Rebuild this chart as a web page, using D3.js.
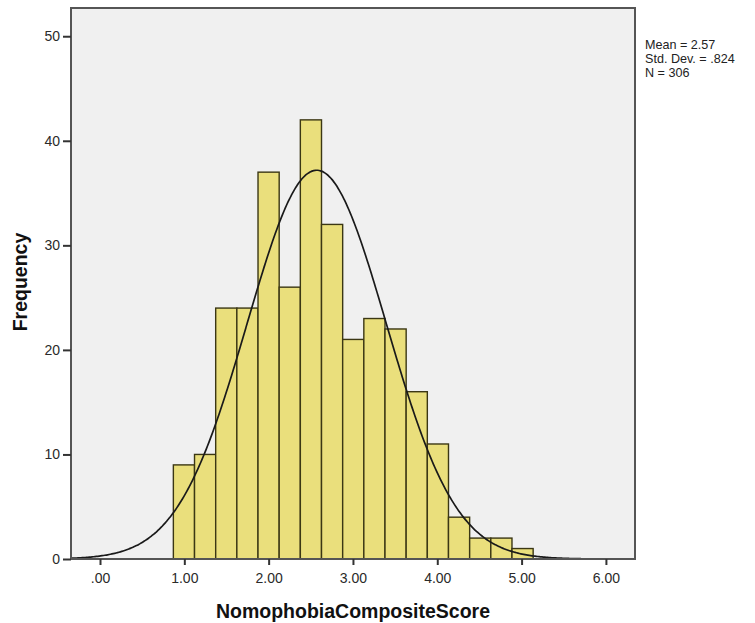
<!DOCTYPE html>
<html>
<head>
<meta charset="utf-8">
<script src="https://cdn.jsdelivr.net/npm/d3@7"></script>
<style>
  body { margin: 0; background: #fff; }
  text { font-family: "Liberation Sans", Arial, sans-serif; }
</style>
</head>
<body>
<svg id="chart" width="755" height="623"></svg>
<script>
// histogram bins (start of first bin, bin width, counts)
const binStart = 0.87;
const binWidth = 0.251;
const counts = [9, 10, 24, 24, 37, 26, 42, 32, 21, 23, 22, 16, 11, 4, 2, 2, 1];

const xTicks = [0, 1, 2, 3, 4, 5, 6];
const yTicks = [0, 10, 20, 30, 40, 50];
const statsLines = ["Mean = 2.57", "Std. Dev. = .824", "N = 306"];
const mean = 2.57, sd = 0.824, n = 306;

const svg = d3.select("#chart");
const plotLeft = 71, plotRight = 635, plotTop = 8, plotBottom = 559;

const x = d3.scaleLinear().domain([-0.344, 6.345]).range([plotLeft, plotRight]);
const y = d3.scaleLinear().domain([0, 52.7]).range([plotBottom, plotTop]);

// plot background
svg.append("rect")
  .attr("x", plotLeft).attr("y", plotTop)
  .attr("width", plotRight - plotLeft).attr("height", plotBottom - plotTop)
  .attr("fill", "#f0f0f0");

const bins = counts.map((c, i) => ({ x0: binStart + i * binWidth, x1: binStart + (i + 1) * binWidth, c }));

svg.selectAll("rect.bar")
  .data(bins).enter().append("rect")
  .attr("class", "bar")
  .attr("x", d => x(d.x0))
  .attr("y", d => y(d.c))
  .attr("width", d => x(d.x1) - x(d.x0))
  .attr("height", d => y(0) - y(d.c))
  .attr("fill", "#eadf7c")
  .attr("stroke", "#3b3714")
  .attr("stroke-width", 1.4);

// normal curve
const xs = d3.range(0, 401).map(i => x.domain()[0] + (x.domain()[1] - x.domain()[0]) * i / 400);
const normal = v => n * binWidth / (sd * Math.sqrt(2 * Math.PI)) * Math.exp(-0.5 * ((v - mean) / sd) ** 2);
svg.append("path")
  .datum(xs)
  .attr("fill", "none")
  .attr("stroke", "#1a1a1a")
  .attr("stroke-width", 1.7)
  .attr("d", d3.line().x(d => x(d)).y(d => y(normal(d))).curve(d3.curveBasis));

// frame
svg.append("rect")
  .attr("x", plotLeft).attr("y", plotTop)
  .attr("width", plotRight - plotLeft).attr("height", plotBottom - plotTop)
  .attr("fill", "none")
  .attr("stroke", "#555")
  .attr("stroke-width", 2);

// axes
const xAxis = d3.axisBottom(x).tickValues(xTicks).tickSize(6).tickPadding(8)
  .tickFormat(d => d === 0 ? ".00" : d3.format(".2f")(d));
const gx = svg.append("g").attr("transform", `translate(0,${plotBottom})`).call(xAxis);
gx.select(".domain").remove();
gx.selectAll("line").attr("stroke", "#333").attr("stroke-width", 2);
gx.selectAll("text").attr("font-size", 14).attr("fill", "#2a2a2a");

const yAxis = d3.axisLeft(y).tickValues(yTicks).tickSize(8).tickPadding(3);
const gy = svg.append("g").attr("transform", `translate(${plotLeft},0)`).call(yAxis);
gy.select(".domain").remove();
gy.selectAll("line").attr("stroke", "#333").attr("stroke-width", 2);
gy.selectAll("text").attr("font-size", 14).attr("fill", "#2a2a2a");

// axis titles
svg.append("text")
  .attr("x", 353).attr("y", 618)
  .attr("text-anchor", "middle")
  .attr("font-size", 19.5).attr("font-weight", "bold")
  .attr("fill", "#111")
  .text("NomophobiaCompositeScore");

svg.append("text")
  .attr("transform", "translate(27,282) rotate(-90)")
  .attr("text-anchor", "middle")
  .attr("font-size", 19.5).attr("font-weight", "bold")
  .attr("fill", "#111")
  .text("Frequency");

// stats box text
svg.append("g").selectAll("text")
  .data(statsLines).enter().append("text")
  .attr("x", 645)
  .attr("y", (d, i) => 49 + i * 14.2)
  .attr("font-size", 12.6)
  .attr("fill", "#222")
  .text(d => d);
</script>
</body>
</html>
